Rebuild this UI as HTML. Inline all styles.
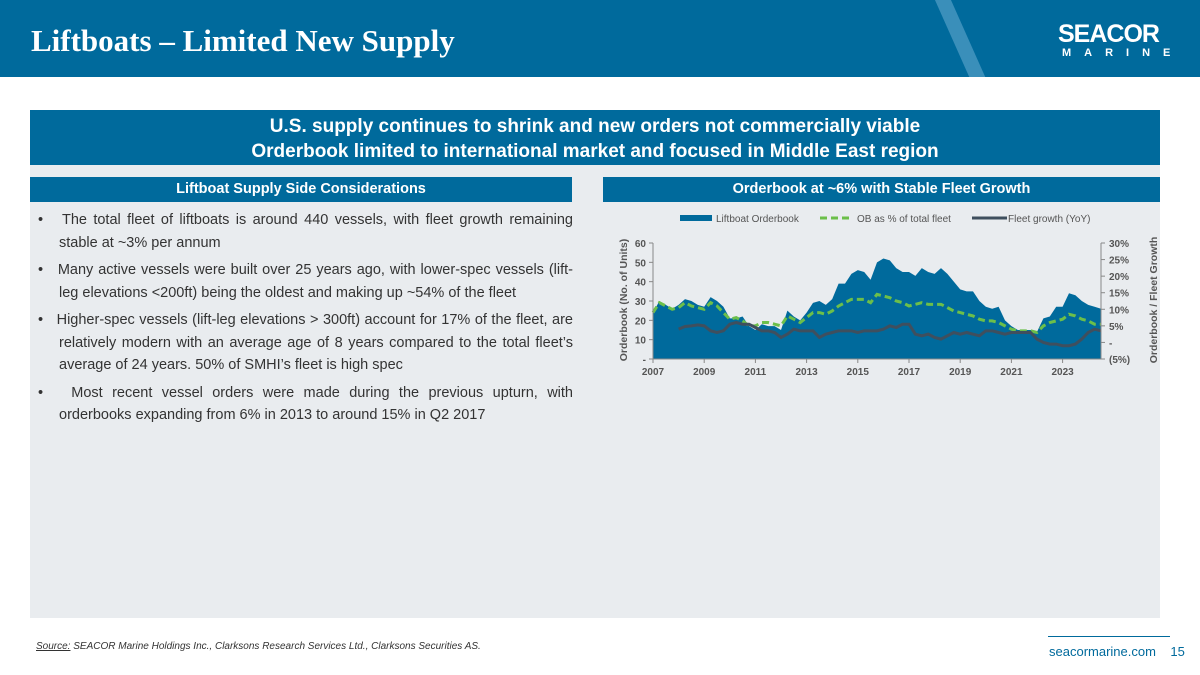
<!DOCTYPE html>
<html><head><meta charset="utf-8"><style>
body{margin:0;width:1200px;height:675px;position:relative;background:#fff;font-family:"Liberation Sans",sans-serif;overflow:hidden}
.abs{position:absolute}
</style></head><body>
<div class="abs" style="left:0;top:0;width:1200px;height:77px;background:#006a9c;overflow:hidden">
<div class="abs" style="left:955px;top:-10px;width:16px;height:110px;background:#3a8fba;transform:skewX(24deg)"></div>
<div class="abs" style="left:31px;top:23px;font-family:'Liberation Serif',serif;font-weight:bold;font-size:31px;color:#fff">Liftboats – Limited New Supply</div>
<div class="abs" style="left:1058px;top:20px;color:#fff;font-weight:bold;font-size:25px;letter-spacing:-1px">SEACOR</div>
<div class="abs" style="left:1062px;top:47px;color:#fff;font-weight:bold;font-size:11px;letter-spacing:13px">MARINE</div>
</div>
<div class="abs" style="left:30px;top:110px;width:1130px;height:508px;background:#e9ecef"></div>
<div class="abs" style="left:30px;top:110px;width:1130px;height:55px;background:#006a9c;color:#fff;font-weight:bold;font-size:19px;text-align:center;line-height:25px;padding-top:4px;box-sizing:border-box">U.S. supply continues to shrink and new orders not commercially viable<br>Orderbook limited to international market and focused in Middle East region</div>
<div class="abs" style="left:30px;top:177px;width:542px;height:25px;background:#006a9c;color:#fff;font-weight:bold;font-size:14.5px;text-align:center;line-height:25px">Liftboat Supply Side Considerations</div>
<div class="abs" style="left:603px;top:177px;width:557px;height:25px;background:#006a9c;color:#fff;font-weight:bold;font-size:14.5px;text-align:center;line-height:25px">Orderbook at ~6% with Stable Fleet Growth</div>
<div class="abs" style="left:38px;top:209px;width:535px;font-size:14.5px;color:#333;line-height:22.5px;text-align:justify">
<div style="padding-left:21px;text-indent:-21px;margin-bottom:5px">•&nbsp;&nbsp; The total fleet of liftboats is around 440 vessels, with fleet growth remaining stable at ~3% per annum</div>
<div style="padding-left:21px;text-indent:-21px;margin-bottom:5px">•&nbsp;&nbsp; Many active vessels were built over 25 years ago, with lower-spec vessels (lift-leg elevations &lt;200ft) being the oldest and making up ~54% of the fleet</div>
<div style="padding-left:21px;text-indent:-21px;margin-bottom:5px">•&nbsp;&nbsp; Higher-spec vessels (lift-leg elevations &gt; 300ft) account for 17% of the fleet, are relatively modern with an average age of 8 years compared to the total fleet’s average of 24 years. 50% of SMHI’s fleet is high spec</div>
<div style="padding-left:21px;text-indent:-21px">•&nbsp;&nbsp; Most recent vessel orders were made during the previous upturn, with orderbooks expanding from 6% in 2013 to around 15% in Q2 2017</div>
</div>
<svg class="abs" style="left:0;top:0" width="1200" height="675" id="chart"></svg>
<div class="abs" style="left:36px;top:641px;font-size:10px;font-style:italic;color:#333"><u>Source:</u> SEACOR Marine Holdings Inc., Clarksons Research Services Ltd., Clarksons Securities AS.</div>
<div class="abs" style="left:1048px;top:636px;width:122px;height:1px;background:#006a9c"></div>
<div class="abs" style="left:1049px;top:644px;font-size:13px;color:#006a9c">seacormarine.com&nbsp;&nbsp;&nbsp; 15</div>
<script>
const startYear=2007, step=0.25;
const orderbook=[24,30,28,26,28,31,30,28,27,32,30,27,21,21,22,17,15,18,17,17,15,25,22,20,24,29,30,28,31,39,39,44,46,45,41,50,52,51,47,45,45,43,47,45,44,47,44,40,36,35,35,30,27,26,27,20,17,15,15,15,14,21,22,27,27,34,33,30,28,27,26];
const obPct=[9,12,11,10,10.5,12,11,10.5,10,12,11,9,7,7.5,6.5,5,5,6,6,5.5,5,8,7,6,7.5,9,9,8.5,9.5,11,12,13,13,13,12,14.5,14,13.5,12.5,12,11,11.5,12,11.5,11.5,11.5,10.5,9.5,9,8.5,8,7,6.5,6.5,6,5,4,3.5,3.5,3.5,3,5,6,6.5,7,8.5,8,7,6.5,5.5,5.5];
const growthStart=2008;
const growth=[4,4.8,5,5.3,5,3.5,3,3.5,5.5,6,5.5,5.5,4.5,3.5,3.5,3,1.5,2.5,4,3.5,3.5,3.5,1.5,2.5,3,3.5,3.5,3.5,3,3.5,3.5,3.5,4,5,4.5,5.5,5.5,2.5,2,2.5,1.5,1,2,3,2.5,3,2.5,2,3.5,3.5,3,2.5,3,3,3,3,1,0,-0.5,-0.5,-1,-1,-0.5,1,3,4,3.5];
const leftTicks=[0,10,20,30,40,50,60];
const rightTicks=[-5,0,5,10,15,20,25,30];
const xTicks=[2007,2009,2011,2013,2015,2017,2019,2021,2023];
const X0=653,PX=25.6,Y0=359,YT=243;
const xs=t=>X0+(t-2007)*PX;
const yL=v=>Y0-v*(Y0-YT)/60;
const yR=p=>Y0-(p+5)*(Y0-YT)/35;
const XR=xs(startYear+(orderbook.length-1)*step);
const svg=document.getElementById('chart');
const NS='http://www.w3.org/2000/svg';
function mk(tag,at,txt){const e=document.createElementNS(NS,tag);for(const k in at)e.setAttribute(k,at[k]);if(txt!==undefined)e.textContent=txt;svg.appendChild(e);return e;}
let d='M'+xs(startYear)+','+yL(0);
orderbook.forEach((v,i)=>{d+=' L'+xs(startYear+i*step)+','+yL(v);});
d+=' L'+XR+','+yL(0)+' Z';
let a=mk('path',{d:d,fill:'#006a9c'});


let p=obPct.map((v,i)=>xs(startYear+i*step)+','+yR(v)).join(' ');
let l1=mk('polyline',{points:p,fill:'none',stroke:'#6cbf4a','stroke-width':3,'stroke-dasharray':'7,4'});


let g=growth.map((v,i)=>xs(growthStart+i*step)+','+yR(v)).join(' ');
let l2=mk('polyline',{points:g,fill:'none',stroke:'#3f4f5e','stroke-width':3});


mk('line',{x1:X0,y1:YT,x2:X0,y2:Y0,stroke:'#888'});
mk('line',{x1:XR,y1:YT,x2:XR,y2:Y0,stroke:'#888'});
mk('line',{x1:X0,y1:Y0,x2:XR,y2:Y0,stroke:'#888'});
leftTicks.forEach(v=>{mk('line',{x1:X0-4,y1:yL(v),x2:X0,y2:yL(v),stroke:'#888'});
const t=mk('text',{x:X0-7,y:yL(v)+4,'text-anchor':'end','font-size':10,'font-weight':'bold',fill:'#555'},v===0?'-':v);

});
rightTicks.forEach(v=>{mk('line',{x1:XR,y1:yR(v),x2:XR+4,y2:yR(v),stroke:'#888'});
const t=mk('text',{x:XR+8,y:yR(v)+4,'font-size':10,'font-weight':'bold',fill:'#555'},v===0?'-':(v<0?'('+(-v)+'%)':v+'%'));

});
xTicks.forEach(v=>{mk('line',{x1:xs(v),y1:Y0,x2:xs(v),y2:Y0+4,stroke:'#888'});
const t=mk('text',{x:xs(v),y:Y0+16,'text-anchor':'middle','font-size':10,'font-weight':'bold',fill:'#555'},v);

});
let yt=mk('text',{x:0,y:0,transform:'translate(627,300) rotate(-90)','text-anchor':'middle','font-size':10.5,'font-weight':'bold',fill:'#555'},'Orderbook (No. of Units)');


let yt2=mk('text',{x:0,y:0,transform:'translate(1157,300) rotate(-90)','text-anchor':'middle','font-size':10.5,'font-weight':'bold',fill:'#555'},'Orderbook / Fleet Growth');


mk('rect',{x:680,y:215,width:32,height:6,fill:'#006a9c'});
let lg1=mk('text',{x:716,y:222,'font-size':10,fill:'#555'},'Liftboat Orderbook');


mk('line',{x1:820,y1:218,x2:852,y2:218,stroke:'#6cbf4a','stroke-width':3,'stroke-dasharray':'7,4'});
let lg2=mk('text',{x:857,y:222,'font-size':10,fill:'#555'},'OB as % of total fleet');


mk('line',{x1:972,y1:218,x2:1007,y2:218,stroke:'#3f4f5e','stroke-width':3});
let lg3=mk('text',{x:1008,y:222,'font-size':10,fill:'#555'},'Fleet growth (YoY)');


</script>
</body></html>
